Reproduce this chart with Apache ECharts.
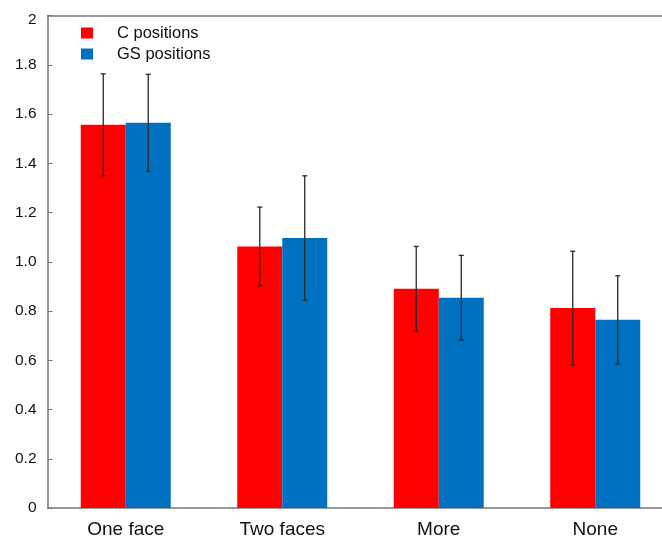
<!DOCTYPE html>
<html>
<head>
<meta charset="utf-8">
<script src="https://cdn.jsdelivr.net/npm/echarts@6/dist/echarts.min.js"></script>
<style>html,body{margin:0;padding:0;background:#fff;}#c{width:662px;height:543px;}</style>
</head>
<body>
<div id="c"></div>
<script>
var categories = ['One face', 'Two faces', 'More', 'None'];
var seriesNames = ['C positions', 'GS positions'];
var cValues = [1.556, 1.062, 0.890, 0.812];
var cErrors = [0.207, 0.160, 0.172, 0.231];
var gsValues = [1.564, 1.096, 0.854, 0.764];
var gsErrors = [0.197, 0.253, 0.172, 0.179];
var yTickLabels = ['0', '0.2', '0.4', '0.6', '0.8', '1.0', '1.2', '1.4', '1.6', '1.8', '2'];

var BAR_W = 45;
var FONT = '"Liberation Sans", Arial, sans-serif';

function errData(vals, errs) {
  return vals.map(function (v, i) { return [i, v - errs[i], v + errs[i]]; });
}
function errSeries(name, vals, errs, offset) {
  return {
    type: 'custom',
    name: name + ' err',
    z: 5,
    encode: { x: 0, y: [1, 2] },
    data: errData(vals, errs),
    renderItem: function (params, api) {
      var i = api.value(0);
      var lo = api.coord([i, api.value(1)]);
      var hi = api.coord([i, api.value(2)]);
      var x = lo[0] + offset;
      var cap = 2.5;
      var st = { stroke: '#2a2a2a', lineWidth: 1.3 };
      return {
        type: 'group',
        children: [
          { type: 'line', shape: { x1: x, y1: lo[1], x2: x, y2: hi[1] }, style: st },
          { type: 'line', shape: { x1: x - cap, y1: lo[1], x2: x + cap, y2: lo[1] }, style: st },
          { type: 'line', shape: { x1: x - cap, y1: hi[1], x2: x + cap, y2: hi[1] }, style: st }
        ]
      };
    }
  };
}

var chart = echarts.init(document.getElementById('c'), null, { renderer: 'canvas' });
chart.setOption({
  animation: false,
  backgroundColor: '#fff',
  textStyle: { fontFamily: FONT },
  grid: { left: 47.5, top: 15.5, height: 492.5, width: 626, outerBoundsMode: 'none', containLabel: false },
  legend: {
    orient: 'vertical',
    left: 81, top: 23.5,
    padding: 0,
    itemWidth: 12, itemHeight: 11, itemGap: 2,
    icon: 'rect',
    data: seriesNames,
    textStyle: { fontSize: 16.5, color: '#111', fontFamily: FONT, lineHeight: 19, padding: [0, 0, 0, 19] }
  },
  xAxis: [{
    type: 'category',
    data: categories,
    position: 'bottom',
    axisLine: { show: true, lineStyle: { color: '#777', width: 1.5 } },
    axisTick: { show: false },
    axisLabel: { fontSize: 19, color: '#111', margin: 12.5, fontFamily: FONT }
  }, {
    type: 'category',
    data: categories,
    position: 'top',
    axisLine: { show: true, lineStyle: { color: '#777', width: 1.5 } },
    axisTick: { show: false },
    axisLabel: { show: false }
  }],
  yAxis: {
    type: 'value',
    min: 0, max: 2, interval: 0.2,
    axisLine: { show: true, lineStyle: { color: '#777', width: 1.5 } },
    axisTick: { show: true, inside: true, length: 5, lineStyle: { color: '#777' } },
    splitLine: { show: false },
    axisLabel: {
      fontSize: 15.5, color: '#111', margin: 11, fontFamily: FONT,
      formatter: function (v) {
        var idx = Math.round(v / 0.2);
        var s = yTickLabels[idx];
        return idx === yTickLabels.length - 1 ? '{top|' + s + '}' : s;
      },
      rich: { top: { fontSize: 15.5, color: '#111', fontFamily: FONT, padding: [9, 0, 0, 0] } }
    }
  },
  series: [
    { type: 'bar', name: seriesNames[0], data: cValues, barWidth: BAR_W, barGap: '0%', itemStyle: { color: '#FF0000' } },
    { type: 'bar', name: seriesNames[1], data: gsValues, barWidth: BAR_W, barGap: '0%', itemStyle: { color: '#0070C0' } },
    errSeries(seriesNames[0], cValues, cErrors, -BAR_W / 2),
    errSeries(seriesNames[1], gsValues, gsErrors, BAR_W / 2)
  ]
});
</script>
</body>
</html>
